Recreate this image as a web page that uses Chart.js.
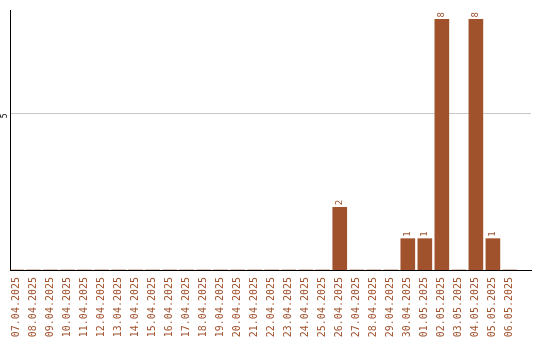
<!DOCTYPE html>
<html>
<head>
<meta charset="utf-8">
<style>
  html, body { margin: 0; padding: 0; background: #fff; }
  #wrap { width: 540px; height: 340px; }
</style>
<script src="https://cdn.jsdelivr.net/npm/chart.js@4/dist/chart.umd.min.js"></script>
</head>
<body>
<div id="wrap"><canvas id="c" width="540" height="340"></canvas></div>
<script>
// Daily counts, 07.04.2025 – 06.05.2025
const dates = [
  '07.04.2025','08.04.2025','09.04.2025','10.04.2025','11.04.2025','12.04.2025',
  '13.04.2025','14.04.2025','15.04.2025','16.04.2025','17.04.2025','18.04.2025',
  '19.04.2025','20.04.2025','21.04.2025','22.04.2025','23.04.2025','24.04.2025',
  '25.04.2025','26.04.2025','27.04.2025','28.04.2025','29.04.2025','30.04.2025',
  '01.05.2025','02.05.2025','03.05.2025','04.05.2025','05.05.2025','06.05.2025'
];
const counts = [
  0,0,0,0,0,0,
  0,0,0,0,0,0,
  0,0,0,0,0,0,
  0,2,0,0,0,1,
  1,8,0,8,1,0
];
const yTicks = [5];

const brown = '#a0522d';
const mono = 'DejaVu Sans Mono';

// Value written above each non-empty bar, turned to read upwards
const barValues = {
  id: 'barValues',
  afterDatasetsDraw(chart) {
    const ctx = chart.ctx;
    const meta = chart.getDatasetMeta(0);
    ctx.save();
    ctx.fillStyle = brown;
    ctx.font = '9px "' + mono + '"';
    ctx.textAlign = 'left';
    ctx.textBaseline = 'middle';
    meta.data.forEach((bar, i) => {
      const v = counts[i];
      if (!v) return;
      ctx.save();
      ctx.translate(bar.x, bar.y - 2);
      ctx.rotate(-Math.PI / 2);
      ctx.fillText(String(v), 0, 0);
      ctx.restore();
    });
    ctx.restore();
  }
};

new Chart(document.getElementById('c'), {
  type: 'bar',
  data: {
    datasets: [{
      data: counts.map((v, i) => ({ x: i, y: v })),
      backgroundColor: brown,
      borderWidth: 0,
      barThickness: 14
    }]
  },
  options: {
    responsive: false,
    animation: false,
    events: [],
    layout: { padding: { top: 10, right: 9, left: 0, bottom: 0 } },
    plugins: { legend: { display: false }, tooltip: { enabled: false } },
    scales: {
      x: {
        type: 'linear',
        offset: false,
        min: -0.38,
        max: 30.24,
        afterBuildTicks(scale) {
          scale.ticks = dates.map((d, i) => ({ value: i }));
        },
        afterFit(scale) { scale.height = 70; },
        grid: { display: false, drawTicks: false, offset: false },
        border: { display: true, color: '#000', width: 1 },
        ticks: {
          autoSkip: false,
          minRotation: 90,
          maxRotation: 90,
          padding: 7,
          color: brown,
          font: { family: mono, size: 10 },
          callback: (v) => dates[v]
        }
      },
      y: {
        min: 0,
        max: 8.3,
        afterBuildTicks(scale) {
          scale.ticks = yTicks.map(v => ({ value: v }));
        },
        afterFit(scale) { scale.width = 10; },
        grid: { color: '#c8c8c8', drawTicks: false },
        border: { display: true, color: '#000', width: 1 },
        ticks: {
          minRotation: 90,
          maxRotation: 90,
          padding: 5,
          color: '#000',
          font: { family: mono, size: 8 }
        }
      }
    }
  },
  plugins: [barValues]
});
</script>
</body>
</html>
